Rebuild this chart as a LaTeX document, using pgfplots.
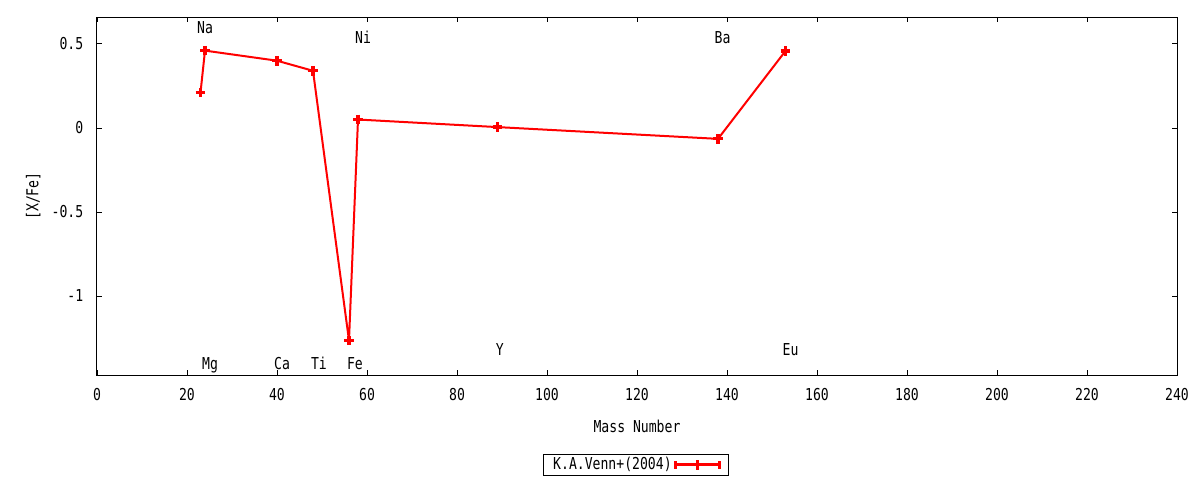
\documentclass[border=0pt]{standalone}
\usepackage{pgfplots}
\pgfplotsset{compat=1.18}
\usepackage{fontspec}
\setmainfont{DejaVu Sans Mono}[FakeStretch=0.8]
\begin{document}
\fontsize{12.3pt}{14pt}\selectfont
\begin{tikzpicture}[elem/.style={anchor=west, inner sep=0pt, text height=9pt, text depth=0pt}]
\begin{axis}[
  at={(0,0)}, anchor=south west,
  scale only axis, width=810pt, height=268.5pt,
  xmin=0, xmax=240, ymin=-1.47, ymax=0.66,
  xtick={0,20,...,240},
  ytick={-1,-0.5,0,0.5},
  yticklabels={-1,-0.5,0,0.5},
  tick align=inside, tick pos=both,
  major tick length=4pt,
  tick style={black, line width=0.6pt},
  axis line style={black, line width=0.75pt},
  /pgf/number format/assume math mode=true,
  xticklabel style={yshift=-6pt},
  yticklabel style={xshift=-6pt},
  xlabel={Mass Number},
  ylabel={[X/Fe]},
  xlabel style={yshift=-6pt},
  ylabel style={yshift=0pt},
  legend style={at={(0.499,-0.251)}, anchor=center, draw=black, line width=0.6pt,
    inner xsep=5pt, inner ysep=0.5pt},
  legend plot pos=right,
  legend image code/.code={
    \draw[red, line width=2.2pt] (0pt,0pt) -- (33pt,0pt);
    \draw[red, line width=2.2pt] (0pt,-3pt) -- (0pt,3pt) (33pt,-3pt) -- (33pt,3pt) (16.5pt,-3.5pt) -- (16.5pt,3.5pt);
  },
]
\addplot[red, line width=1.5pt, mark=+, mark size=3.6pt, mark options={line width=2.4pt}]
  coordinates {(23,0.21) (24,0.46) (40,0.40) (48,0.34) (56,-1.265) (58,0.05) (89,0.005) (138,-0.065) (153,0.458)};
\addlegendentry{K.A.Venn+(2004)}
\node[elem] at (axis cs:22.2,0.595) {Na};
\node[elem] at (axis cs:23.3,-1.40) {Mg};
\node[elem] at (axis cs:39.3,-1.40) {Ca};
\node[elem] at (axis cs:47.5,-1.40) {Ti};
\node[elem] at (axis cs:55.5,-1.40) {Fe};
\node[elem] at (axis cs:57.3,0.536) {Ni};
\node[elem] at (axis cs:88.6,-1.321) {Y};
\node[elem] at (axis cs:137.2,0.536) {Ba};
\node[elem] at (axis cs:152.3,-1.321) {Eu};
\end{axis}
\useasboundingbox (-72.75pt,-78.75pt) rectangle (827.25pt,281.25pt);
\end{tikzpicture}
\end{document}
